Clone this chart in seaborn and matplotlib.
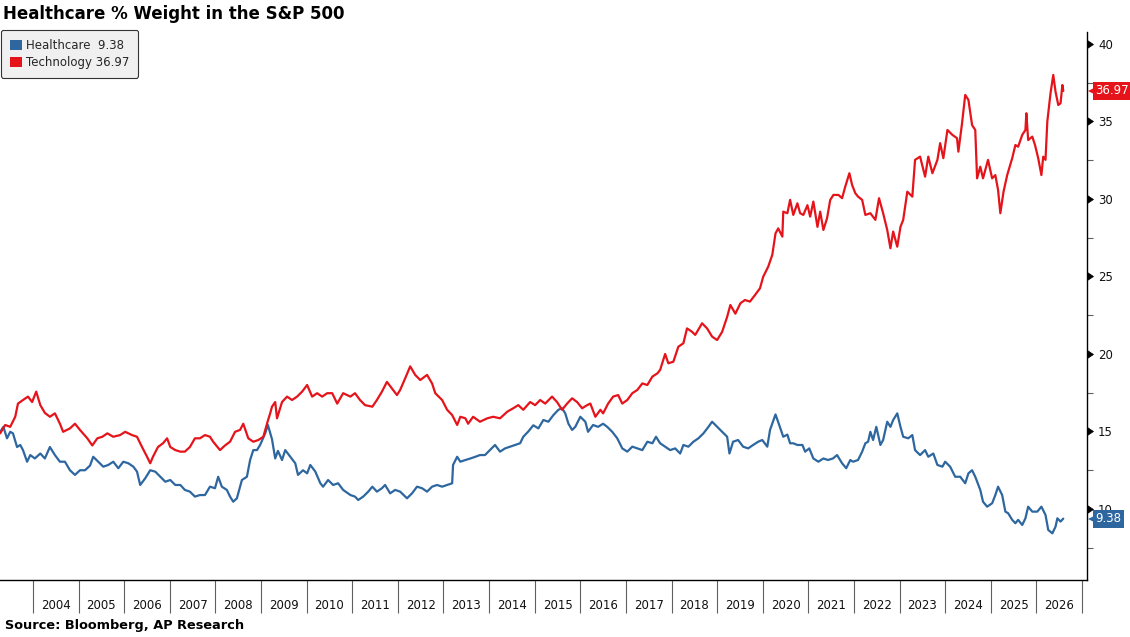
import numpy as np
import pandas as pd
import matplotlib
matplotlib.use("Agg")
import matplotlib.pyplot as plt
import matplotlib.markers as mmarkers
import matplotlib.transforms as mtrans
from matplotlib.patches import Patch
import seaborn as sns

# ---------------- data (decimal years, % weight) ----------------
tech_years = [2003.28, 2003.39, 2003.50, 2003.61, 2003.67, 2003.78, 2003.89, 2003.98, 2004.07, 2004.16,
              2004.26, 2004.37, 2004.48, 2004.59, 2004.66, 2004.81, 2004.92, 2005.03, 2005.19, 2005.30,
              2005.41, 2005.52, 2005.63, 2005.76, 2005.91, 2006.02, 2006.17, 2006.28, 2006.39, 2006.50,
              2006.57, 2006.63, 2006.74, 2006.85, 2006.94, 2007.01, 2007.12, 2007.23, 2007.33, 2007.44,
              2007.55, 2007.66, 2007.77, 2007.88, 2007.95, 2008.10, 2008.21, 2008.32, 2008.43, 2008.54,
              2008.61, 2008.72, 2008.83, 2008.94, 2009.05, 2009.14, 2009.20, 2009.24, 2009.31, 2009.35,
              2009.46, 2009.57, 2009.68, 2009.79, 2009.90, 2010.01, 2010.12, 2010.23, 2010.34, 2010.45,
              2010.56, 2010.67, 2010.80, 2010.96, 2011.06, 2011.17, 2011.28, 2011.44, 2011.54, 2011.65,
              2011.76, 2011.87, 2011.98, 2012.05, 2012.16, 2012.27, 2012.38, 2012.49, 2012.64, 2012.75,
              2012.82, 2012.97, 2013.08, 2013.19, 2013.30, 2013.37, 2013.48, 2013.54, 2013.65, 2013.80,
              2013.96, 2014.09, 2014.24, 2014.40, 2014.53, 2014.64, 2014.75, 2014.90, 2015.01, 2015.12,
              2015.23, 2015.38, 2015.49, 2015.60, 2015.71, 2015.82, 2015.93, 2016.04, 2016.15, 2016.22,
              2016.33, 2016.44, 2016.50, 2016.61, 2016.72, 2016.83, 2016.92, 2017.03, 2017.14, 2017.25,
              2017.36, 2017.47, 2017.58, 2017.69, 2017.75, 2017.86, 2017.93, 2018.04, 2018.15, 2018.26,
              2018.34, 2018.45, 2018.52, 2018.67, 2018.78, 2018.89, 2019.00, 2019.11, 2019.22, 2019.29,
              2019.40, 2019.51, 2019.61, 2019.72, 2019.83, 2019.94, 2020.01, 2020.12, 2020.21, 2020.28,
              2020.34, 2020.43, 2020.45, 2020.54, 2020.60, 2020.67, 2020.76, 2020.82, 2020.89, 2020.98,
              2021.04, 2021.11, 2021.20, 2021.26, 2021.33, 2021.41, 2021.48, 2021.55, 2021.66, 2021.74,
              2021.81, 2021.90, 2021.96, 2022.03, 2022.09, 2022.18, 2022.25, 2022.36, 2022.47, 2022.55,
              2022.64, 2022.73, 2022.80, 2022.86, 2022.95, 2023.02, 2023.08, 2023.17, 2023.28, 2023.34,
              2023.45, 2023.56, 2023.63, 2023.72, 2023.83, 2023.89, 2023.96, 2024.05, 2024.16, 2024.26,
              2024.29, 2024.37, 2024.44, 2024.51, 2024.59, 2024.66, 2024.70, 2024.77, 2024.83, 2024.94,
              2025.03, 2025.10, 2025.16, 2025.21, 2025.28, 2025.36, 2025.47, 2025.54, 2025.60, 2025.69,
              2025.76, 2025.78, 2025.82, 2025.91, 2025.97, 2026.04, 2026.11, 2026.15, 2026.20, 2026.24,
              2026.31, 2026.37, 2026.42, 2026.48, 2026.53, 2026.57, 2026.59]
tech_values = [14.88, 15.42, 15.30, 15.95, 16.80, 17.03, 17.25, 16.90, 17.57, 16.70,
               16.20, 15.95, 16.17, 15.50, 14.98, 15.20, 15.50, 15.10, 14.56, 14.10,
               14.56, 14.66, 14.88, 14.66, 14.77, 14.98, 14.77, 14.66, 14.00, 13.37,
               12.95, 13.37, 14.00, 14.24, 14.56, 14.00, 13.80, 13.70, 13.70, 14.00,
               14.56, 14.56, 14.77, 14.66, 14.34, 13.80, 14.10, 14.34, 14.98, 15.10,
               15.50, 14.56, 14.34, 14.45, 14.66, 15.60, 16.17, 16.60, 16.90, 15.85,
               16.90, 17.25, 17.03, 17.25, 17.57, 18.00, 17.25, 17.47, 17.25, 17.47,
               17.47, 16.80, 17.47, 17.25, 17.47, 17.03, 16.70, 16.60, 17.03, 17.57,
               18.20, 17.78, 17.35, 17.68, 18.43, 19.20, 18.65, 18.32, 18.65, 18.10,
               17.47, 17.03, 16.40, 16.06, 15.42, 15.95, 15.85, 15.50, 15.95, 15.63,
               15.85, 15.95, 15.85, 16.28, 16.50, 16.70, 16.40, 16.90, 16.70, 17.03,
               16.80, 17.25, 16.90, 16.40, 16.80, 17.14, 16.90, 16.50, 16.70, 16.80,
               15.95, 16.40, 16.17, 16.80, 17.25, 17.35, 16.80, 17.03, 17.47, 17.68,
               18.10, 18.00, 18.54, 18.75, 18.97, 20.00, 19.40, 19.50, 20.47, 20.69,
               21.65, 21.43, 21.23, 21.98, 21.65, 21.12, 20.90, 21.43, 22.40, 23.16,
               22.60, 23.27, 23.48, 23.38, 23.80, 24.24, 24.98, 25.63, 26.40, 27.78,
               28.10, 27.57, 29.18, 29.08, 29.94, 28.97, 29.72, 29.08, 28.97, 29.60,
               28.86, 29.83, 28.20, 29.18, 28.00, 28.75, 29.94, 30.26, 30.26, 30.05,
               30.80, 31.66, 30.90, 30.37, 30.15, 29.94, 28.97, 29.08, 28.65, 30.05,
               29.08, 28.00, 26.82, 27.90, 26.92, 28.20, 28.65, 30.47, 30.15, 32.52,
               32.73, 31.44, 32.73, 31.66, 32.52, 33.60, 32.63, 34.45, 34.13, 33.92,
               33.05, 34.88, 36.71, 36.39, 34.77, 34.45, 31.33, 32.08, 31.33, 32.52,
               31.33, 31.54, 30.58, 29.08, 30.47, 31.54, 32.63, 33.48, 33.37, 34.13,
               34.45, 35.53, 33.80, 34.02, 33.48, 32.63, 31.54, 32.73, 32.52, 35.00,
               36.82, 38.00, 36.92, 36.06, 36.17, 37.35, 36.97]

hc_years = [2003.28, 2003.35, 2003.43, 2003.50, 2003.56, 2003.65, 2003.72, 2003.78, 2003.87, 2003.94,
            2004.04, 2004.16, 2004.26, 2004.37, 2004.48, 2004.59, 2004.70, 2004.81, 2004.92, 2005.03,
            2005.14, 2005.25, 2005.32, 2005.43, 2005.54, 2005.65, 2005.76, 2005.87, 2005.98, 2006.09,
            2006.20, 2006.28, 2006.35, 2006.46, 2006.57, 2006.68, 2006.79, 2006.90, 2007.01, 2007.12,
            2007.23, 2007.33, 2007.44, 2007.55, 2007.66, 2007.77, 2007.88, 2007.99, 2008.06, 2008.14,
            2008.25, 2008.32, 2008.39, 2008.47, 2008.58, 2008.69, 2008.76, 2008.83, 2008.91, 2008.98,
            2009.09, 2009.15, 2009.24, 2009.31, 2009.37, 2009.46, 2009.53, 2009.64, 2009.75, 2009.81,
            2009.92, 2010.01, 2010.08, 2010.19, 2010.30, 2010.36, 2010.47, 2010.58, 2010.69, 2010.80,
            2010.96, 2011.06, 2011.13, 2011.24, 2011.35, 2011.44, 2011.54, 2011.65, 2011.72, 2011.83,
            2011.94, 2012.05, 2012.20, 2012.31, 2012.42, 2012.53, 2012.64, 2012.75, 2012.86, 2012.97,
            2013.08, 2013.19, 2013.21, 2013.30, 2013.37, 2013.48, 2013.59, 2013.70, 2013.80, 2013.91,
            2014.02, 2014.13, 2014.24, 2014.35, 2014.46, 2014.57, 2014.68, 2014.75, 2014.86, 2014.97,
            2015.08, 2015.19, 2015.30, 2015.41, 2015.52, 2015.60, 2015.67, 2015.74, 2015.82, 2015.89,
            2016.00, 2016.11, 2016.17, 2016.28, 2016.39, 2016.50, 2016.59, 2016.70, 2016.81, 2016.92,
            2017.03, 2017.14, 2017.25, 2017.36, 2017.47, 2017.58, 2017.66, 2017.75, 2017.86, 2017.97,
            2018.08, 2018.19, 2018.26, 2018.37, 2018.48, 2018.59, 2018.70, 2018.81, 2018.89, 2019.00,
            2019.11, 2019.22, 2019.27, 2019.35, 2019.46, 2019.57, 2019.68, 2019.79, 2019.90, 2019.99,
            2020.10, 2020.16, 2020.28, 2020.34, 2020.45, 2020.54, 2020.60, 2020.67, 2020.76, 2020.87,
            2020.93, 2021.02, 2021.11, 2021.22, 2021.33, 2021.43, 2021.54, 2021.63, 2021.74, 2021.83,
            2021.92, 2021.98, 2022.09, 2022.18, 2022.25, 2022.31, 2022.36, 2022.42, 2022.49, 2022.58,
            2022.64, 2022.73, 2022.80, 2022.86, 2022.95, 2023.02, 2023.08, 2023.19, 2023.28, 2023.34,
            2023.45, 2023.56, 2023.63, 2023.74, 2023.83, 2023.94, 2024.00, 2024.11, 2024.22, 2024.33,
            2024.44, 2024.51, 2024.59, 2024.66, 2024.77, 2024.83, 2024.92, 2025.03, 2025.10, 2025.16,
            2025.25, 2025.32, 2025.38, 2025.47, 2025.54, 2025.60, 2025.69, 2025.76, 2025.82, 2025.91,
            2026.02, 2026.11, 2026.20, 2026.26, 2026.35, 2026.42, 2026.46, 2026.53, 2026.59]
hc_values = [14.98, 15.30, 14.56, 14.98, 14.88, 14.00, 14.13, 13.80, 13.05, 13.48,
             13.26, 13.58, 13.26, 14.00, 13.48, 13.05, 13.05, 12.50, 12.20, 12.50,
             12.50, 12.80, 13.37, 13.05, 12.73, 12.84, 13.05, 12.63, 13.05, 12.95,
             12.73, 12.41, 11.55, 11.98, 12.50, 12.41, 12.08, 11.76, 11.87, 11.55,
             11.55, 11.23, 11.12, 10.80, 10.90, 10.90, 11.44, 11.34, 12.08, 11.44,
             11.23, 10.80, 10.47, 10.69, 11.87, 12.08, 13.16, 13.80, 13.80, 14.13,
             14.88, 15.42, 14.50, 13.26, 13.75, 13.16, 13.80, 13.37, 12.95, 12.20,
             12.50, 12.30, 12.84, 12.41, 11.66, 11.44, 11.87, 11.55, 11.66, 11.23,
             10.90, 10.80, 10.58, 10.80, 11.12, 11.44, 11.12, 11.34, 11.55, 11.01,
             11.23, 11.12, 10.69, 11.01, 11.44, 11.34, 11.12, 11.44, 11.55, 11.44,
             11.55, 11.66, 12.84, 13.37, 13.05, 13.16, 13.26, 13.37, 13.48, 13.48,
             13.80, 14.13, 13.70, 13.91, 14.02, 14.13, 14.24, 14.66, 15.00, 15.40,
             15.20, 15.74, 15.63, 16.06, 16.40, 16.50, 16.17, 15.50, 15.10, 15.30,
             15.95, 15.63, 14.98, 15.42, 15.30, 15.50, 15.30, 14.98, 14.56, 13.91,
             13.70, 14.02, 13.91, 13.80, 14.34, 14.24, 14.66, 14.24, 14.02, 13.80,
             13.91, 13.58, 14.13, 14.02, 14.34, 14.56, 14.88, 15.30, 15.63, 15.30,
             14.98, 14.66, 13.58, 14.34, 14.45, 14.02, 13.91, 14.13, 14.34, 14.45,
             14.02, 15.10, 16.10, 15.60, 14.66, 14.80, 14.24, 14.24, 14.13, 14.13,
             13.70, 13.91, 13.26, 13.05, 13.26, 13.16, 13.26, 13.48, 12.95, 12.63,
             13.16, 13.05, 13.16, 13.70, 14.24, 14.34, 14.98, 14.45, 15.30, 14.13,
             14.45, 15.63, 15.30, 15.74, 16.17, 15.30, 14.66, 14.56, 14.77, 13.80,
             13.48, 13.80, 13.37, 13.58, 12.84, 12.73, 13.05, 12.73, 12.08, 12.08,
             11.66, 12.30, 12.50, 12.08, 11.23, 10.47, 10.15, 10.37, 10.90, 11.44,
             10.90, 9.83, 9.73, 9.30, 9.08, 9.30, 8.97, 9.40, 10.15, 9.83,
             9.83, 10.15, 9.62, 8.65, 8.43, 8.86, 9.40, 9.19, 9.38]

series_names = ["Healthcare", "Technology"]
series_colors = ["#2E67A0", "#E5141B"]
year_labels = list(range(2004, 2027))

# ---------------- build frame ----------------
df = pd.concat([
    pd.DataFrame({"year": hc_years, "weight": hc_values, "sector": "Healthcare"}),
    pd.DataFrame({"year": tech_years, "weight": tech_values, "sector": "Technology"}),
], ignore_index=True)

sns.set_theme(style="white")
plt.rcParams["font.family"] = ["DejaVu Sans"]

W, H = 1130, 637
fig = plt.figure(figsize=(W / 100, H / 100), dpi=100)
ax = fig.add_axes([0, 1 - 580 / H, 1087 / W, (580 - 32) / H])

sns.lineplot(data=df, x="year", y="weight", hue="sector", hue_order=series_names,
             palette=dict(zip(series_names, series_colors)), estimator=None, sort=False,
             linewidth=1.6, legend=False, ax=ax)

ax.set_xlim(2003.276, 2027.11)
ax.set_ylim(5.42, 40.77)
ax.set_xlabel("")
ax.set_ylabel("")

for s in ["left", "top"]:
    ax.spines[s].set_visible(False)
ax.spines["right"].set_color("black")
ax.spines["bottom"].set_color("black")
ax.spines["right"].set_linewidth(1.0)
ax.spines["bottom"].set_linewidth(1.0)

# x axis: long year-boundary ticks, labels centred in each year
ax.set_xticks([y for y in range(2004, 2028)])
ax.set_xticklabels([])
ax.set_xticks([y + 0.5 for y in year_labels], minor=True)
ax.set_xticklabels([str(y) for y in year_labels], minor=True)
ax.tick_params(axis="x", which="major", direction="out", length=24, width=0.8, color="#606060", bottom=True)
ax.tick_params(axis="x", which="minor", length=0, pad=13.5, labelsize=8.5, labelcolor="#111111")

# y axis on the right with triangular tick markers
ax.yaxis.tick_right()
ax.set_yticks([10, 15, 20, 25, 30, 35, 40])
ax.set_yticks([7.5, 12.5, 17.5, 22.5, 27.5, 32.5, 37.5], minor=True)
ax.tick_params(axis="y", which="major", right=True, left=False, length=6, width=0.5,
               color="black", pad=2, labelsize=8.5, labelcolor="#111111")
ax.tick_params(axis="y", which="minor", right=True, left=False, direction="out",
               length=4, width=0.8, color="#606060")
for t in ax.yaxis.get_major_ticks():
    t.tick2line.set_marker(mmarkers.CARETRIGHTBASE)
    t.tick2line.set_markersize(6)

# last-value tags
last_vals = [hc_values[-1], tech_values[-1]]
blend = mtrans.blended_transform_factory(ax.transAxes, ax.transData)
for val, col in zip(last_vals, series_colors):
    tip = mtrans.offset_copy(blend, fig=fig, x=5.5, units="points")
    ax.plot([1], [val], marker="<", markersize=10, color=col, transform=tip,
            clip_on=False, zorder=6, markeredgewidth=0)
    ax.annotate(f"{val:.2f}", xy=(1, val), xycoords=blend, xytext=(6, 0),
                textcoords="offset points", ha="left", va="center", fontsize=8.5,
                color="white", zorder=7, annotation_clip=False,
                bbox=dict(boxstyle="square,pad=0.22", fc=col, ec="none"))

# legend
handles = [Patch(facecolor=c, edgecolor="none") for c in series_colors]
labels = [f"Healthcare  {hc_values[-1]:.2f}", f"Technology {tech_values[-1]:.2f}"]
leg = fig.legend(handles, labels, loc="upper left", bbox_to_anchor=(1 / W, 1 - 30 / H),
                 bbox_transform=fig.transFigure, fontsize=8.5, handlelength=1.0,
                 handleheight=1.0, handletextpad=0.35, borderpad=0.75, labelspacing=0.35,
                 borderaxespad=0, fancybox=True, framealpha=1)
leg.get_frame().set_facecolor("#F0F0F0")
leg.get_frame().set_edgecolor("#333333")
leg.get_frame().set_linewidth(0.8)

fig.text(3 / W, 1 - 14 / H, "Healthcare % Weight in the S&P 500", fontsize=12,
         fontweight="bold", ha="left", va="center", color="black")
fig.text(5 / W, 1 - 625 / H, "Source: Bloomberg, AP Research", fontsize=9.3,
         fontweight="bold", ha="left", va="center", color="black")

fig.savefig("out.png", dpi=100)
